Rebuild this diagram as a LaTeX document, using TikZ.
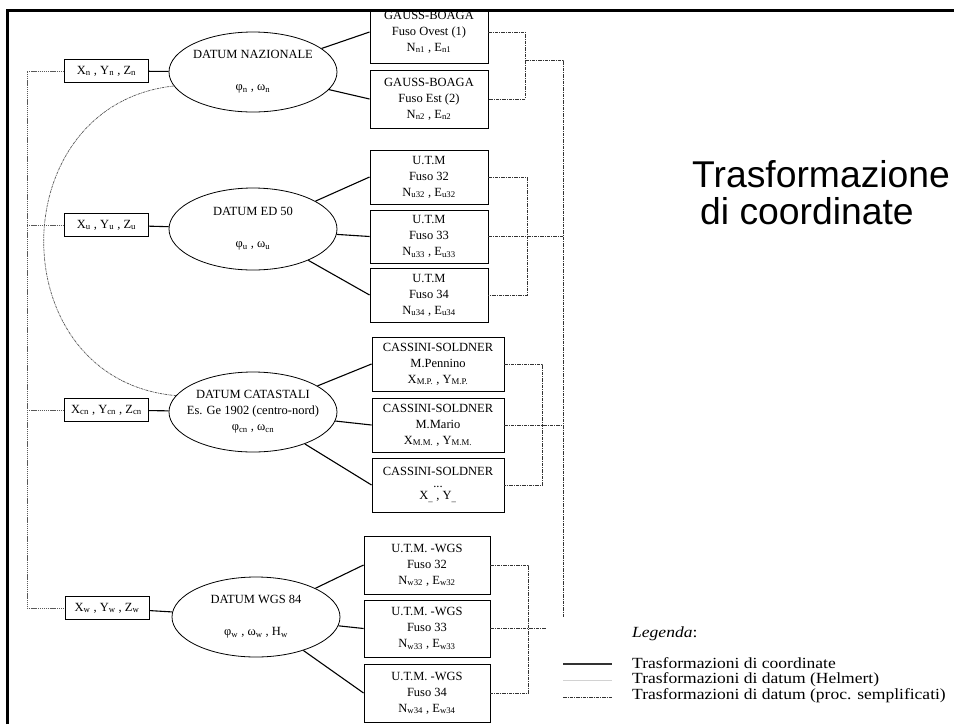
\documentclass[tikz,border=0pt]{standalone}
\usepackage{fontspec}
\setmainfont{Liberation Serif}
\newfontfamily\titlefont{Liberation Sans}
\newfontfamily\legfont[FakeStretch=1.13]{Liberation Serif}
\usetikzlibrary{shapes.geometric}
\begin{document}
\begin{tikzpicture}[x=1pt,y=-1pt,
  txt/.style={font=\fontsize{12.5}{16}\selectfont},
  prj/.style={draw, line width=0.9pt, inner sep=0pt, minimum width=118, minimum height=54, align=center, txt},
  xyz/.style={draw, line width=0.9pt, inner sep=0pt, minimum width=84, minimum height=23, txt},
  dat/.style={draw, ellipse, line width=0.8pt, inner sep=0pt, inner xsep=-18pt, minimum width=168, minimum height=80, align=center, txt},
  coordline/.style={line width=1.1pt},
  helm/.style={line width=0.7pt, black!65, dash pattern=on 1.2pt off 0.7pt},
  helmc/.style={line width=0.7pt, black!65, dash pattern=on 2.5pt off 0.8pt on 0.8pt off 0.8pt},
  simp/.style={line width=0.8pt, black!80, dash pattern=on 3.5pt off 1pt on 1pt off 1pt},
  leg/.style={font=\legfont\fontsize{15.5}{17}\selectfont, anchor=west, inner sep=0pt}
]
\useasboundingbox (0,0) rectangle (954,724);
\fill[white] (0,0) rectangle (954,724);

% datum ellipses
\node[dat] (dn) at (253,72) {DATUM NAZIONALE\\[16pt]φ\textsubscript{n} , ω\textsubscript{n}};
\node[dat, minimum height=82] (du) at (253,229) {DATUM ED 50\\[16pt]φ\textsubscript{u} , ω\textsubscript{u}};
\node[dat] (dc) at (253,412) {DATUM CATASTALI\\Es. Ge 1902 (centro-nord)\\φ\textsubscript{cn} , ω\textsubscript{cn}};
\node[dat] (dw) at (256,617) {DATUM WGS 84\\[16pt]φ\textsubscript{w} , ω\textsubscript{w} , H\textsubscript{w}};

% geocentric boxes
\node[xyz] (xn) at (106.5,71) {X\textsubscript{n} , Y\textsubscript{n} , Z\textsubscript{n}};
\node[xyz] (xu) at (106.5,225) {X\textsubscript{u} , Y\textsubscript{u} , Z\textsubscript{u}};
\node[xyz] (xc) at (106.5,410) {X\textsubscript{cn} , Y\textsubscript{cn} , Z\textsubscript{cn}};
\node[xyz] (xw) at (107,608) {X\textsubscript{w} , Y\textsubscript{w} , Z\textsubscript{w}};

% projection boxes
\node[prj, minimum height=62] (g1) at (429,32) {GAUSS-BOAGA\\Fuso Ovest (1)\\N\textsubscript{n1} , E\textsubscript{n1}};
\node[prj, minimum height=58] (g2) at (429,99) {GAUSS-BOAGA\\Fuso Est (2)\\N\textsubscript{n2} , E\textsubscript{n2}};
\node[prj] (u1) at (429,177) {U.T.M\\Fuso 32\\N\textsubscript{u32} , E\textsubscript{u32}};
\node[prj, minimum height=53] (u2) at (429,236.5) {U.T.M\\Fuso 33\\N\textsubscript{u33} , E\textsubscript{u33}};
\node[prj] (u3) at (429,295) {U.T.M\\Fuso 34\\N\textsubscript{u34} , E\textsubscript{u34}};
\node[prj, minimum width=132] (c1) at (438,364) {CASSINI-SOLDNER\\M.Pennino\\X\textsubscript{M.P.} , Y\textsubscript{M.P.}};
\node[prj, minimum width=132] (c2) at (438,425) {CASSINI-SOLDNER\\M.Mario\\X\textsubscript{M.M.} , Y\textsubscript{M.M.}};
\node[prj, minimum width=132] (c3) at (438,485) {CASSINI-SOLDNER\\[-4pt]...\\[-4pt]X\textsubscript{\_} , Y\textsubscript{\_}};
\node[prj, minimum width=126, minimum height=58] (w1) at (427,565) {U.T.M. -WGS\\Fuso 32\\N\textsubscript{w32} , E\textsubscript{w32}};
\node[prj, minimum width=126, minimum height=57] (w2) at (427,628.5) {U.T.M. -WGS\\Fuso 33\\N\textsubscript{w33} , E\textsubscript{w33}};
\node[prj, minimum width=126, minimum height=58] (w3) at (427,693) {U.T.M. -WGS\\Fuso 34\\N\textsubscript{w34} , E\textsubscript{w34}};

% coordinate transformations (solid)
\draw[coordline] (xn) -- (dn);
\draw[coordline] (xu) -- (du);
\draw[coordline] (xc) -- (dc);
\draw[coordline] (xw) -- (dw);
\draw[coordline] (dn) -- (g1.west);
\draw[coordline] (dn) -- (g2.west);
\draw[coordline] (du) -- (u1.west);
\draw[coordline] (du) -- (u2.west);
\draw[coordline] (du) -- (u3.west);
\draw[coordline] (dc) -- (c1.west);
\draw[coordline] (dc) -- (c2.west);
\draw[coordline] (dc) -- (c3.west);
\draw[coordline] (dw) -- (w1.west);
\draw[coordline] (dw) -- (w2.west);
\draw[coordline] (dw) -- (w3.west);

% left datum links
\coordinate (lx) at (27,0);
\draw[helm] (xn.west) -- (xn.west -| lx) -- (xw.west -| lx) -- (xw.west);
\draw[helm] (xu.west) -- (xu.west -| lx);
\draw[helm] (xc.west) -- (xc.west -| lx);
\draw[helmc] (dn.190) .. controls (0,105) and (0,380) .. (dc.168);

% right simplified links
\coordinate (gm) at (525,60);
\coordinate (tt) at (563,60);
\coordinate (tb) at (563,617);
\draw[simp] (g1.east) -- ++(37,0) |- (g2.east);
\draw[simp] (gm) -- (tt) -- (tb);
\draw[simp] (u1.east) -- ++(39,0) |- (u3.east);
\draw[simp] (u2.east) -- (u2.east -| tt);
\draw[simp] (c1.east) -- ++(38,0) |- (c3.east);
\draw[simp] (c2.east) -- (c2.east -| tt);
\draw[simp] (w1.east) -- ++(38,0) |- (w3.east);
\draw[simp] (w2.east) -- ++(56,0);

% title
\node[anchor=base west, inner sep=0pt, font=\titlefont\fontsize{37.3}{40}\selectfont] (t1) at (692,187) {Trasformazione};
\node[anchor=base west, inner sep=0pt, font=\titlefont\fontsize{37.3}{40}\selectfont] (t2) at (700,224) {di coordinate};

% legend
\node[leg] (lg) at (632,634) {\textit{Legenda}:};
\coordinate (a1) at (563,664); \coordinate (b1) at (612,664);
\coordinate (a2) at (563,680); \coordinate (b2) at (612,680);
\coordinate (a3) at (563,697); \coordinate (b3) at (612,697);
\draw[line width=1.8pt, black!80] (a1) -- (b1);
\draw[line width=0.6pt, gray!35] (a2) -- (b2);
\draw[simp] (a3) -- (b3);
\node[leg] (l1) at (632,663) {Trasformazioni di coordinate};
\node[leg] (l2) at (632,679.5) {Trasformazioni di datum (Helmert)};
\node[leg] (l3) at (632,696) {Trasformazioni di datum (proc. semplificati)};

% frame (page area above it is blank)
\fill[white] (0,0) rectangle (954,9);
\draw[line width=3pt] (7,724) -- (7,10) -- (954,10);
\end{tikzpicture}
\end{document}
